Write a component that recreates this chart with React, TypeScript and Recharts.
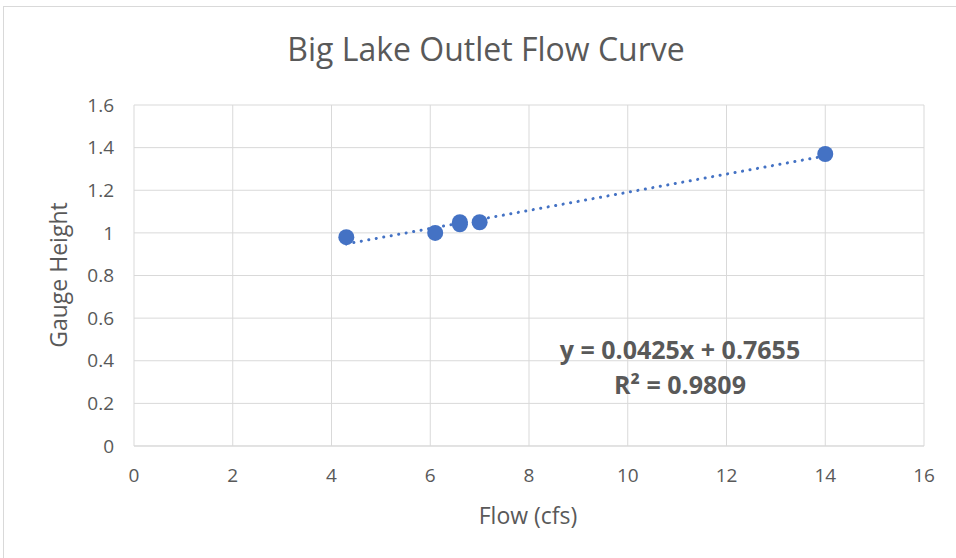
import { ScatterChart, Scatter, XAxis, YAxis, CartesianGrid } from 'recharts'

const flow = [4.3, 6.1, 6.6, 6.6, 7.0, 14.0]
const gauge = [0.98, 1.0, 1.05, 1.04, 1.05, 1.37]
const trendX = [4.3, 14.0]
const trendY = [0.948, 1.361]
const xTicks = [0, 2, 4, 6, 8, 10, 12, 14, 16]
const yTicks = [0, 0.2, 0.4, 0.6, 0.8, 1, 1.2, 1.4, 1.6]

const points = flow.map((x, i) => ({ x, y: gauge[i] }))
const trend = trendX.map((x, i) => ({ x, y: trendY[i] }))

const font = 'Open Sans'
const grey = '#595959'
const blue = '#4472C4'

export default function App() {
  return (
    <div style={{ position: 'absolute', left: 0, top: 0, width: 956, height: 558, background: '#fff', overflow: 'hidden', fontFamily: font, color: grey }}>
      <div style={{ position: 'absolute', left: 3, top: 6, width: 970, height: 570, border: '1px solid #d9d9d9' }} />
      <div style={{ position: 'absolute', left: 0, top: 27, width: 972, textAlign: 'center', fontSize: 32, lineHeight: '44px' }}>
        Big Lake Outlet Flow Curve
      </div>
      <ScatterChart width={956} height={558} margin={{ top: 105, right: 32, bottom: 76, left: 44 }} style={{ position: 'absolute', left: 0, top: 0 }}>
        <CartesianGrid stroke="#d9d9d9" strokeWidth={1} />
        <XAxis
          type="number"
          dataKey="x"
          domain={[0, 16]}
          ticks={xTicks}
          tickLine={false}
          axisLine={{ stroke: '#d9d9d9' }}
          tick={{ fill: grey, fontSize: 19, fontFamily: font }}
          tickMargin={17}
          height={36}
        />
        <YAxis
          type="number"
          dataKey="y"
          domain={[0, 1.6]}
          ticks={yTicks}
          tickLine={false}
          axisLine={false}
          tick={{ fill: grey, fontSize: 19, fontFamily: font }}
          tickMargin={14}
          width={90}
        />
        <Scatter
          data={trend}
          isAnimationActive={false}
          line={{ stroke: blue, strokeWidth: 3, strokeDasharray: '0.1 7.5', strokeLinecap: 'round' }}
          shape={() => <g />}
        />
        <Scatter data={points} isAnimationActive={false} fill={blue} shape={(p: any) => <circle cx={p.cx} cy={p.cy} r={8} fill={blue} />} />
      </ScatterChart>
      <div style={{ position: 'absolute', left: 428, top: 499, width: 200, textAlign: 'center', fontSize: 23, lineHeight: '32px' }}>
        Flow (cfs)
      </div>
      <div style={{ position: 'absolute', left: -42, top: 259, width: 200, textAlign: 'center', fontSize: 23, lineHeight: '32px', transform: 'rotate(-90deg)' }}>
        Gauge Height
      </div>
      <div style={{ position: 'absolute', left: 520, top: 332, width: 320, textAlign: 'center', fontSize: 25, fontWeight: 'bold', lineHeight: '35px' }}>
        y = 0.0425x + 0.7655
        <br />
        R² = 0.9809
      </div>
    </div>
  )
}
